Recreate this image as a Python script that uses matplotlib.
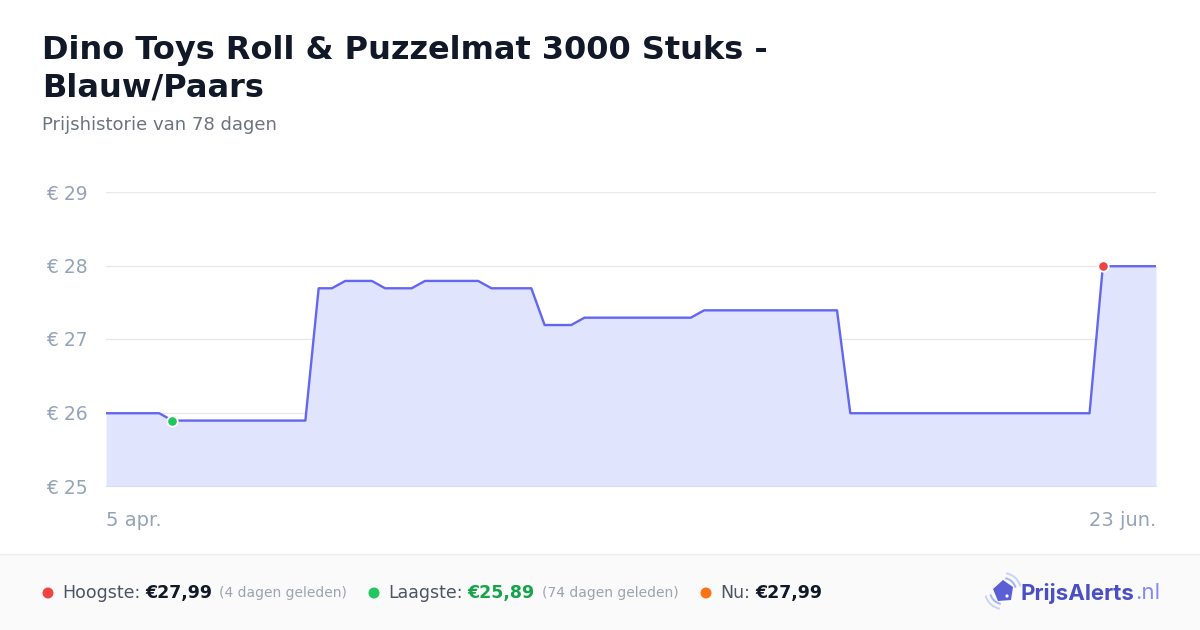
import matplotlib.pyplot as plt
from matplotlib.patches import Rectangle, Polygon, Arc, Circle

# prijzen per dag, 5 apr. t/m 23 jun.
dagen = list(range(80))
prijzen = [
    25.99, 25.99, 25.99, 25.99, 25.99,
    25.89, 25.89, 25.89, 25.89, 25.89, 25.89, 25.89, 25.89, 25.89, 25.89, 25.89,
    27.69, 27.69,
    27.79, 27.79, 27.79,
    27.69, 27.69, 27.69,
    27.79, 27.79, 27.79, 27.79, 27.79,
    27.69, 27.69, 27.69, 27.69,
    27.19, 27.19, 27.19,
    27.29, 27.29, 27.29, 27.29, 27.29, 27.29, 27.29, 27.29, 27.29,
    27.39, 27.39, 27.39, 27.39, 27.39, 27.39, 27.39, 27.39, 27.39, 27.39, 27.39,
    25.99, 25.99, 25.99, 25.99, 25.99, 25.99, 25.99, 25.99, 25.99, 25.99,
    25.99, 25.99, 25.99, 25.99, 25.99, 25.99, 25.99, 25.99, 25.99,
    27.99, 27.99, 27.99, 27.99, 27.99,
]
y_ticks = [25, 26, 27, 28, 29]
y_labels = ["€ 25", "€ 26", "€ 27", "€ 28", "€ 29"]
x_labels = ["5 apr.", "23 jun."]
titel_regels = ["Dino Toys Roll & Puzzelmat 3000 Stuks -", "Blauw/Paars"]
subtitel = "Prijshistorie van 78 dagen"
dag_laagste = 5
dag_hoogste = 75

W, H = 1200, 630
fig = plt.figure(figsize=(12, 6.3), dpi=100)
fig.patch.set_facecolor("white")

# achtergrond laag in pixels
bg = fig.add_axes([0, 0, 1, 1], zorder=-1)
bg.set_xlim(0, W)
bg.set_ylim(H, 0)
bg.axis("off")
bg.add_patch(Rectangle((0, 554), W, 76, color="#fafafa", lw=0))
bg.plot([0, W], [554, 554], color="#eeeeee", lw=1)

# grafiek
left, right, top, bottom = 106, 1156, 192, 486
ax = fig.add_axes([left / W, 1 - bottom / H, (right - left) / W, (bottom - top) / H])
ax.set_facecolor("none")
ax.fill_between(dagen, prijzen, 25, color="#e0e4fd", lw=0, zorder=1)
ax.plot(dagen, prijzen, color="#6366f1", lw=1.7, zorder=3)
ax.plot(dagen[dag_laagste], prijzen[dag_laagste], "o", color="#22c55e", ms=7.5,
        mec="white", mew=1.3, zorder=4)
ax.plot(dagen[dag_hoogste], prijzen[dag_hoogste], "o", color="#ef4444", ms=7.5,
        mec="white", mew=1.3, zorder=4)
ax.set_xlim(dagen[0], dagen[-1])
ax.set_ylim(25, 29)
ax.set_yticks(y_ticks)
ax.set_yticklabels(y_labels)
ax.set_xticks([])
ax.grid(axis="y", color="#e8e8ec", lw=1)
ax.set_axisbelow(True)
for s in ["top", "right", "left"]:
    ax.spines[s].set_visible(False)
ax.spines["bottom"].set_color("#d8dcf6")
ax.tick_params(axis="y", length=0, pad=13, labelsize=13.5, labelcolor="#94a3b8")
per_px = 4 / (bottom - top)
ax.text(dagen[0], 25 - 35 * per_px, x_labels[0], ha="left", va="center",
        fontsize=14, color="#94a3b8")
ax.text(dagen[-1], 25 - 35 * per_px, x_labels[1], ha="right", va="center",
        fontsize=14, color="#94a3b8")

# titels
bg.text(42, 59, titel_regels[0], fontsize=23, fontweight="bold", color="#111827",
        va="baseline", ha="left")
bg.text(42, 96, titel_regels[1], fontsize=23, fontweight="bold", color="#111827",
        va="baseline", ha="left")
bg.text(42, 130, subtitel, fontsize=13, color="#6b7280", va="baseline")

# voettekst
renderer = fig.canvas.get_renderer()


def stuk(x, tekst, **kw):
    t = bg.text(x, 593, tekst, va="center", ha="left", **kw)
    bb = t.get_window_extent(renderer)
    return bb.x1


def item(x, kleur, label, waarde, waardekleur, extra):
    bg.add_patch(Circle((x, 593), 5.5, color=kleur, lw=0))
    x = stuk(x + 14, label, fontsize=12.5, color="#4b5563")
    x = stuk(x + 5, waarde, fontsize=12.5, fontweight="bold", color=waardekleur)
    if extra:
        stuk(x + 7, extra, fontsize=10, color="#9ca3af")


item(48, "#ef4444", "Hoogste:", "€27,99", "#111827", "(4 dagen geleden)")
item(374, "#22c55e", "Laagste:", "€25,89", "#16a34a", "(74 dagen geleden)")
item(706, "#f97316", "Nu:", "€27,99", "#111827", "")

# logo
tag = Polygon([(993, 589), (1003, 580), (1013, 587), (1011, 600), (998, 601)],
              closed=True, color="#5b5fd6", lw=0, joinstyle="round")
bg.add_patch(tag)
bg.add_patch(Circle((1007, 596), 1.6, color="white", lw=0))
for r, c in [(26, "#a5b4fc"), (36, "#c7d2fe")]:
    bg.add_patch(Arc((1003, 591), r, r, theta1=-80, theta2=-15, color=c, lw=1.4))
    bg.add_patch(Arc((1003, 591), r, r, theta1=100, theta2=165, color=c, lw=1.4))
xl = stuk(1021, "PrijsAlerts", fontsize=16, fontweight="bold", color="#4a4fc4",
          family="Inter")
stuk(xl, ".nl", fontsize=16, color="#818cf8", family="Inter")

fig.savefig("out.png", dpi=100)
